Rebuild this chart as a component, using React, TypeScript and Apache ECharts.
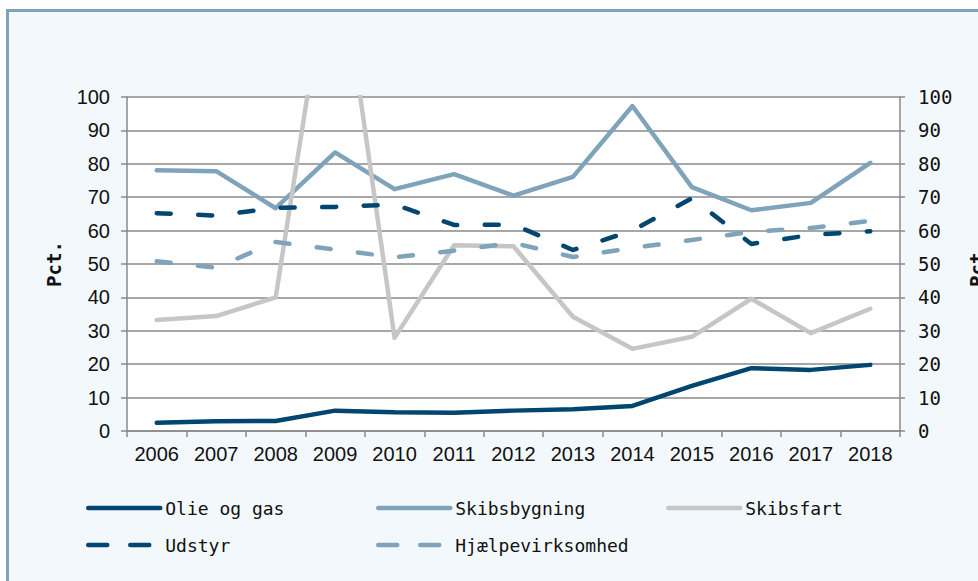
import { useEffect, useRef } from "react";
import * as echarts from "echarts";

const years = ["2006", "2007", "2008", "2009", "2010", "2011", "2012", "2013", "2014", "2015", "2016", "2017", "2018"];
const olieOgGas = [2.5, 2.9, 3.0, 6.1, 5.6, 5.5, 6.1, 6.5, 7.5, 13.5, 18.8, 18.3, 19.8];
const skibsbygning = [78.1, 77.8, 66.7, 83.4, 72.4, 76.9, 70.5, 76.1, 97.3, 73.0, 66.1, 68.3, 80.3];
const skibsfart = [33.2, 34.4, 40.0, 153, 27.9, 55.6, 55.3, 34.2, 24.6, 28.2, 39.6, 29.3, 36.6];
const udstyr = [65.2, 64.5, 66.8, 67.1, 67.8, 61.7, 61.8, 54.2, 60.0, 69.7, 56.0, 58.7, 59.8];
const hjaelpevirksomhed = [50.8, 48.9, 56.6, 54.3, 52.0, 54.0, 56.3, 52.1, 54.8, 57.2, 59.6, 60.8, 62.9];

const DARK = "#00466f";
const LIGHT = "#7fa3ba";
const GREY = "#c6c6c6";
const GRID = "#8a8a8a";
const DASH = [14, 27.5];

export default function App() {
  const ref = useRef<HTMLDivElement>(null);
  useEffect(() => {
    const chart = echarts.init(ref.current!, null, { renderer: "svg" });
    const mono = "'DejaVu Sans Mono', 'Liberation Mono', monospace";
    const sans = "'Liberation Sans', Arial, sans-serif";
    const legendBase = (dashed: boolean) => ({
      itemWidth: 72,
      itemHeight: 14,
      itemGap: 0,
      textStyle: { fontFamily: mono, fontSize: 18, color: "#111", lineHeight: 18 },
      selectedMode: false,
      itemStyle: { opacity: 0 },
      lineStyle: { width: 4.5, type: dashed ? [19, 23] : "solid", cap: "round" },
    });
    const line = (name: string, data: number[], color: string, dashed: boolean) => ({
      name,
      type: "line",
      data,
      symbol: "none",
      clip: true,
      lineStyle: { color, width: 4.5, type: dashed ? DASH : "solid", cap: "round", join: "round" },
      itemStyle: { color },
    });
    chart.setOption({
      animation: false,
      grid: {
        left: 127,
        right: 78,
        top: 97,
        bottom: 150,
        show: true,
        backgroundColor: "#ffffff",
        borderWidth: 0,
        containLabel: false,
        outerBoundsMode: "none",
      },
      legend: [
        { ...legendBase(false), data: ["Olie og gas"], left: 81, top: 494 },
        { ...legendBase(false), data: ["Skibsbygning"], left: 371, top: 494 },
        { ...legendBase(false), data: ["Skibsfart"], left: 661, top: 494 },
        { ...legendBase(true), data: ["Udstyr"], left: 81, top: 531 },
        { ...legendBase(true), data: ["Hjælpevirksomhed"], left: 371, top: 531 },
      ],
      xAxis: {
        type: "category",
        data: years,
        boundaryGap: true,
        axisLine: { lineStyle: { color: GRID, width: 1.5 } },
        axisTick: { show: true, length: 6, lineStyle: { color: GRID, width: 1.5 } },
        axisLabel: { fontFamily: sans, fontSize: 20, color: "#111", margin: 13, interval: 0 },
      },
      yAxis: [
        {
          type: "value",
          min: 0,
          max: 100,
          interval: 10,
          position: "left",
          name: "Pct.",
          nameLocation: "middle",
          nameRotate: 90,
          nameGap: 64,
          nameTextStyle: { fontFamily: mono, fontSize: 19, fontWeight: "bold", color: "#111" },
          axisLine: { show: true, lineStyle: { color: GRID, width: 1.5 } },
          axisTick: { show: true, length: 6, lineStyle: { color: GRID, width: 1.5 } },
          axisLabel: { fontFamily: sans, fontSize: 20, color: "#111", margin: 17 },
          splitLine: { show: true, lineStyle: { color: GRID, width: 1.5 } },
        },
        {
          type: "value",
          min: 0,
          max: 100,
          interval: 10,
          position: "right",
          name: "Pct.",
          nameLocation: "middle",
          nameRotate: 90,
          nameGap: 67,
          nameTextStyle: { fontFamily: mono, fontSize: 19, fontWeight: "bold", color: "#111" },
          axisLine: { show: true, lineStyle: { color: GRID, width: 1.5 } },
          axisTick: { show: true, length: 5, lineStyle: { color: GRID, width: 1.5 } },
          axisLabel: { fontFamily: mono, fontSize: 19, color: "#111", margin: 18 },
          splitLine: { show: false },
        },
      ],
      series: [
        line("Olie og gas", olieOgGas, DARK, false),
        line("Skibsbygning", skibsbygning, LIGHT, false),
        line("Skibsfart", skibsfart, GREY, false),
        line("Udstyr", udstyr, DARK, true),
        line("Hjælpevirksomhed", hjaelpevirksomhed, LIGHT, true),
      ],
    });
    return () => chart.dispose();
  }, []);
  return (
    <div style={{ position: "fixed", left: 0, top: 0, width: 978, height: 581, background: "#ffffff", overflow: "hidden" }}>
      <div
        style={{
          position: "absolute",
          left: 6,
          top: 9,
          right: 0,
          bottom: 0,
          borderTop: "3px solid #7fa3ba",
          borderLeft: "3px solid #7fa3ba",
          background: "#f3f8fc",
        }}
      />
      <div ref={ref} style={{ position: "absolute", left: 0, top: 0, width: 978, height: 581 }} />
    </div>
  );
}
